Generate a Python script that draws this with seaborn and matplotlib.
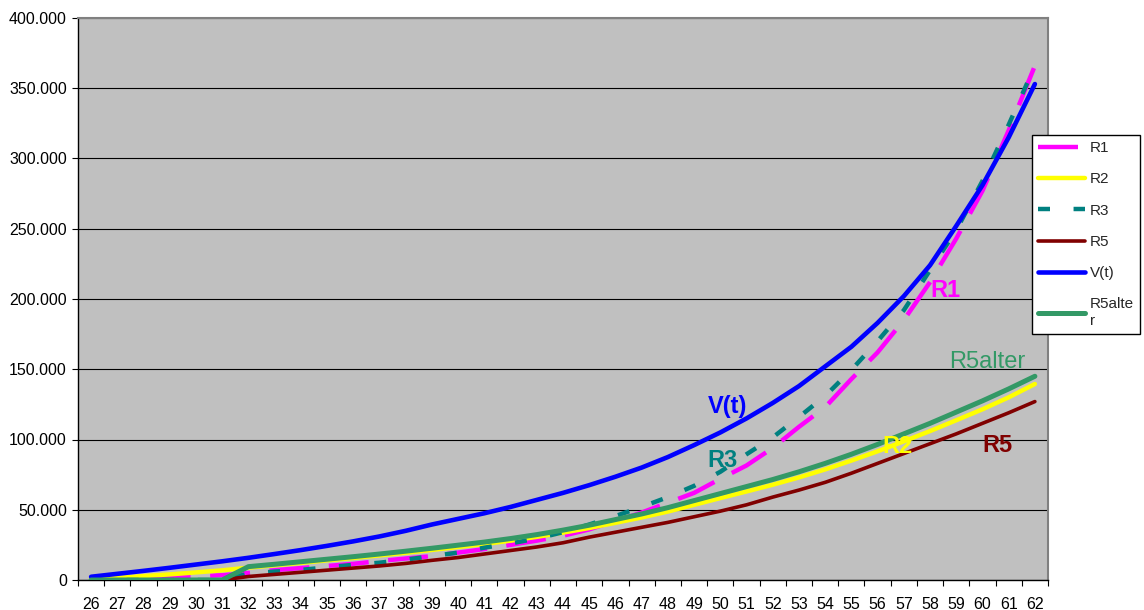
import matplotlib
matplotlib.use("Agg")
import matplotlib.pyplot as plt
import seaborn as sns
import numpy as np
from matplotlib.ticker import FixedLocator, FuncFormatter

# Age axis (categories)
ages = list(range(26, 63))

# Series values (in thousands)
r1 = [0, 0.5, 1.2, 2.0, 2.6, 3.4, 5.0, 7.0, 8.5, 10.0, 11.5, 13.5, 15.3, 17.0, 19.5,
      22.0, 25.0, 28.0, 31.5, 36.0, 42.0, 48.0, 55.0, 62.0, 72.0, 81.5, 94.0, 109.0,
      123.0, 143.0, 162.0, 185.0, 212.0, 243.0, 277.0, 320.0, 366.0]
r2 = [0.3, 1.5, 2.8, 4.0, 5.4, 6.9, 8.8, 10.5, 12.2, 14.0, 15.7, 17.5, 19.4, 21.4, 23.5,
      25.6, 28.0, 30.7, 33.7, 37.0, 40.7, 44.5, 48.7, 53.5, 58.3, 63.0, 67.8, 73.0,
      78.7, 85.0, 91.6, 98.7, 106.0, 113.7, 121.5, 130.0, 139.5]
r3 = [0, 0, 0, 0, 0, 0, 4.5, 6.0, 7.2, 9.0, 10.8, 12.3, 14.5, 17.0, 19.5,
      23.0, 26.0, 29.5, 34.0, 39.5, 45.5, 52.0, 59.0, 67.0, 77.0, 89.5, 101.5, 116.0,
      131.0, 149.5, 170.0, 192.0, 220.5, 249.0, 284.0, 324.0, 366.0]
r5 = [0, 0, 0, 0, 0, 0, 2.5, 4.0, 5.5, 7.0, 8.5, 10.0, 11.8, 14.0, 16.0,
      18.5, 21.0, 23.5, 26.5, 30.5, 34.0, 37.5, 41.0, 45.0, 49.0, 53.5, 59.0, 64.0,
      69.5, 76.0, 83.0, 90.0, 97.0, 104.0, 111.5, 119.0, 127.0]
vt = [2.3, 4.4, 6.5, 8.7, 11.0, 13.3, 15.8, 18.5, 21.3, 24.3, 27.5, 31.0, 35.0, 39.5, 43.5,
      47.5, 52.0, 57.0, 62.0, 67.5, 73.5, 80.0, 87.5, 96.0, 105.0, 115.0, 126.0, 138.0,
      152.0, 166.0, 183.0, 202.0, 224.0, 252.0, 281.0, 315.0, 353.0]
r5alter = [0, 0, 0, 0, 0, 0, 9.5, 11.2, 13.0, 14.8, 16.6, 18.5, 20.5, 22.6, 24.8,
           27.0, 29.5, 32.3, 35.5, 39.0, 43.0, 47.0, 51.5, 56.5, 61.5, 66.5, 71.5, 77.0,
           83.0, 89.5, 96.5, 104.0, 111.5, 119.5, 127.5, 136.0, 145.0]

names = ["R1", "R2", "R3", "R5", "V(t)", "R5alter"]
legend_labels = ["R1", "R2", "R3", "R5", "V(t)", "R5alte\nr"]
values = [r1, r2, r3, r5, vt, r5alter]
colors = ["#FF00FF", "#FFFF00", "#008080", "#800000", "#0000FF", "#339966"]
widths = [3.2, 3.2, 3.2, 2.6, 3.3, 3.6]
dashes = [(9.0, 4.4), None, (2.7, 5.3), None, None, None]

sns.set_theme(style="white")
plt.rcParams['font.family'] = ['Liberation Sans', 'DejaVu Sans']

fig = plt.figure(figsize=(11.44, 6.10), dpi=100)
ax = fig.add_axes([78 / 1144, 1 - 580 / 610, (1048 - 78) / 1144, (580 - 18) / 610])
ax.set_facecolor("#C0C0C0")

lines = []
for i, (name, vals, col, lw, dsh) in enumerate(zip(names, values, colors, widths, dashes)):
    sns.lineplot(x=ages, y=[v * 1000 for v in vals], ax=ax, color=col,
                 linewidth=lw, zorder=3 + i, legend=False)
    ln = ax.lines[-1]
    if dsh is not None:
        ln.set_dashes(dsh)
        ln.set_dash_capstyle("butt")
    lines.append(ln)

ax.set_xlim(25.5, 62.5)
ax.set_ylim(0, 400000)

# x axis: labels centred on categories, tick marks on category borders
ax.set_xticks(ages, labels=[str(a) for a in ages])
ax.xaxis.set_minor_locator(FixedLocator(np.arange(25.5, 63.0, 1.0)))
ax.tick_params(axis="x", which="major", length=0, pad=12, labelsize=11.5, colors="black")
ax.tick_params(axis="x", which="minor", length=4, width=0.8, direction="out",
               color="black", bottom=True)

# y axis with dotted thousands separator
ax.set_yticks(np.arange(0, 400001, 50000))
ax.yaxis.set_major_formatter(FuncFormatter(lambda v, p: f"{v:,.0f}".replace(",", ".")))
ax.tick_params(axis="y", which="major", length=4, width=0.8, direction="out",
               pad=4, labelsize=11.5, colors="black", left=True)

ax.set_xlabel("")
ax.set_ylabel("")
ax.yaxis.grid(True, color="black", linewidth=0.8)
ax.xaxis.grid(False)
ax.set_axisbelow(True)

for side in ["left", "bottom"]:
    ax.spines[side].set_color("black")
    ax.spines[side].set_linewidth(1.0)
for side in ["top", "right"]:
    ax.spines[side].set_color("#808080")
    ax.spines[side].set_linewidth(1.5)

# series labels inside the plot
ax.text(50.26, 123800, "V(t)", color="#0000FF", fontsize=17, fontweight="bold",
        ha="center", va="center", zorder=20)
ax.text(50.07, 84700, "R3", color="#008080", fontsize=17, fontweight="bold",
        ha="center", va="center", zorder=20)
ax.text(56.76, 94700, "R2", color="#FFFF00", fontsize=17, fontweight="bold",
        ha="center", va="center", zorder=20)
ax.text(60.57, 96000, "R5", color="#800000", fontsize=17, fontweight="bold",
        ha="center", va="center", zorder=20)
ax.text(58.6, 205700, "R1", color="#FF00FF", fontsize=17, fontweight="bold",
        ha="center", va="center", zorder=20)
ax.text(60.17, 155000, "R5alter", color="#339966", fontsize=17,
        ha="center", va="center", zorder=20)

leg = fig.legend(lines, legend_labels, loc="upper left",
                 bbox_to_anchor=(1032 / 1144, 1 - 135 / 610), frameon=True,
                 fontsize=11, handlelength=3.1, handletextpad=0.3,
                 labelspacing=1.13, borderpad=0.4, borderaxespad=0,
                 fancybox=False, edgecolor="black", framealpha=1, facecolor="white")
leg.get_frame().set_linewidth(1.0)

fig.savefig("out.png", dpi=100, facecolor="white")
